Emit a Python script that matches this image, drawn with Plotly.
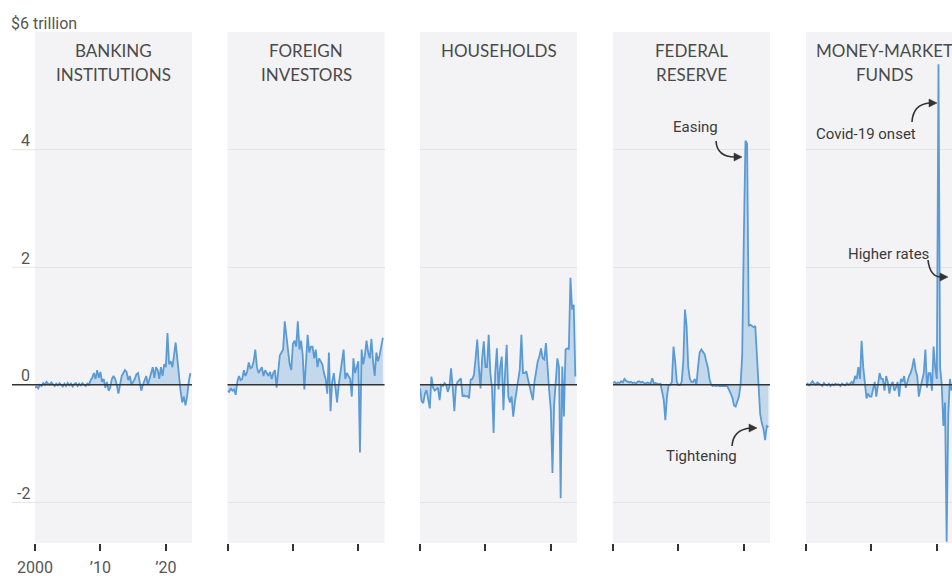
import plotly.graph_objects as go

# Quarterly change in holdings of U.S. Treasurys, by holder (trillions of dollars, annual rate)
quarters = [2000 + q / 4 for q in range(96)]

banking = [
    -0.05, -0.03, -0.06, 0.00,
    -0.02, 0.03, 0.00, 0.05,
    0.02, 0.00, 0.04, 0.01,
    -0.02, 0.02, -0.01, 0.03,
    0.00, -0.03, 0.02, -0.02,
    0.03, -0.01, 0.02, -0.03,
    0.01, 0.03, -0.02, 0.02,
    -0.01, 0.03, 0.00, -0.02,
    0.02, 0.00, 0.08, 0.12,
    0.20, 0.10, 0.25, 0.12,
    0.22, 0.05, 0.10, -0.05,
    0.05, -0.10, -0.05, 0.10,
    0.15, 0.10, 0.00, -0.15,
    0.00, 0.15, 0.20, 0.25,
    0.22, 0.08, 0.15, 0.00,
    0.05, 0.10, 0.18, 0.20,
    0.05, -0.10, 0.00, 0.08,
    0.15, 0.00, 0.10, 0.20,
    0.30, 0.12, 0.30, 0.25,
    0.10, 0.30, 0.15, 0.35,
    0.30, 0.88, 0.35, 0.40,
    0.30, 0.50, 0.72, 0.45,
    0.15, -0.10, -0.30, -0.20,
    -0.35, -0.20, 0.05, 0.20,
]

foreign = [
    -0.10, -0.12, -0.06, -0.10,
    -0.08, -0.17, 0.05, 0.15,
    0.08, 0.10, 0.25, 0.15,
    0.22, 0.38, 0.28, 0.30,
    0.40, 0.60, 0.30, 0.20,
    0.25, 0.30, 0.15, 0.25,
    0.20, 0.15, 0.22, 0.10,
    0.20, 0.25, -0.05, 0.30,
    0.50, 0.55, 0.60, 1.08,
    0.85, 0.60, 0.35, 0.25,
    0.70, 0.75, 0.65, 1.08,
    0.60, 0.75, 0.50, -0.08,
    0.50, 0.85, 0.55, 0.65,
    0.65, 0.45, 0.60, 0.30,
    0.45, 0.40, 0.35, 0.20,
    0.10, -0.15, 0.55, -0.45,
    0.05, 0.20, -0.10, -0.30,
    0.00, 0.20, 0.35, 0.60,
    0.10, 0.20, 0.15, 0.10,
    -0.20, 0.45, 0.20, 0.30,
    0.40, -1.15, 0.60, 0.35,
    0.50, 0.75, 0.55, 0.45,
    0.78, 0.40, 0.15, 0.55,
    0.40, 0.50, 0.65, 0.80,
]

households = [
    -0.06, -0.28, -0.31, -0.15,
    -0.09, -0.26, -0.40, 0.14,
    -0.05, -0.10, -0.08, -0.05,
    -0.26, 0.00, -0.02, 0.03,
    0.00, -0.12, -0.03, 0.28,
    -0.05, -0.45, -0.02, 0.05,
    0.08, 0.11, -0.20, -0.18,
    -0.20, -0.19, -0.23, 0.09,
    0.10, 0.17, 0.45, 0.77,
    0.30, -0.06, 0.45, 0.74,
    0.30, 0.30, 0.85, 0.20,
    -0.05, -0.82, 0.20, 0.62,
    -0.08, 0.30, 0.48, -0.43,
    0.20, 0.68, -0.20, -0.30,
    -0.20, -0.54, -0.30, -0.08,
    0.10, 0.26, 0.85, 0.20,
    0.20, 0.23, 0.10, -0.03,
    -0.10, -0.26, 0.05, 0.20,
    0.40, 0.48, 0.62, 0.45,
    0.43, 0.71, 0.20, -0.10,
    -0.43, -1.50, -0.35, 0.10,
    0.45, 0.30, -1.93, 0.31,
    -0.54, 0.60, 0.62, 0.60,
    1.82, 1.28, 1.36, 0.14,
]

federal_reserve = [
    0.03, 0.05, 0.02, 0.04,
    0.03, 0.06, 0.04, 0.10,
    0.07, 0.06, 0.04, 0.05,
    0.03, 0.04, 0.02, 0.05,
    0.06, 0.04, 0.05, 0.03,
    0.02, 0.04, 0.03, 0.02,
    0.11, 0.02, 0.03, 0.02,
    0.01, 0.02, -0.10, -0.25,
    -0.60, -0.20, 0.00, 0.00,
    0.05, 0.65, 0.40, 0.05,
    0.00, 0.00, 0.05, 0.40,
    1.28, 1.00, 0.30, 0.10,
    0.05, 0.05, 0.10, 0.00,
    0.30, 0.55, 0.60, 0.55,
    0.52, 0.40, 0.30, 0.10,
    0.00, -0.02, -0.01, -0.02,
    -0.01, -0.02, -0.02, -0.01,
    -0.02, -0.02, -0.03, -0.08,
    -0.15, -0.22, -0.35, -0.37,
    -0.28, -0.20, 0.00, 0.50,
    2.50, 4.15, 4.10, 1.00,
    1.02, 1.00, 0.98, 1.00,
    0.50, -0.05, -0.50, -0.65,
    -0.75, -0.94, -0.70, -0.72,
]

money_market_funds = [
    0.00, 0.02, -0.01, 0.03,
    0.06, 0.02, 0.00, 0.04,
    0.02, 0.01, -0.02, 0.03,
    0.00, -0.01, 0.02, -0.02,
    0.01, -0.01, 0.02, 0.00,
    0.01, -0.02, 0.02, 0.00,
    -0.01, 0.03, 0.00, 0.02,
    0.05, 0.02, 0.15, 0.10,
    0.30, 0.10, 0.75, 0.30,
    0.00, -0.23, -0.15, -0.20,
    -0.20, -0.05, 0.05, -0.20,
    0.05, 0.20, 0.10, 0.10,
    -0.10, 0.15, 0.05, -0.15,
    0.00, 0.05, -0.10, -0.05,
    0.05, -0.20, 0.10, 0.05,
    0.15, -0.05, 0.05, 0.15,
    0.20, 0.30, 0.45, 0.25,
    0.15, -0.20, -0.05, 0.10,
    0.20, 0.60, -0.05, 0.20,
    0.20, -0.10, 0.65, 0.30,
    0.10, 5.45, 0.30, 0.00,
    -0.70, -0.30, -2.67, -0.50,
    0.10, -0.10,
]

panel_titles = [
    ["BANKING", "INSTITUTIONS"],
    ["FOREIGN", "INVESTORS"],
    ["HOUSEHOLDS"],
    ["FEDERAL", "RESERVE"],
    ["MONEY-MARKET", "FUNDS"],
]
series = [banking, foreign, households, federal_reserve, money_market_funds]

y_tick_values = [-2, 0, 2, 4]
y_tick_labels = ["-2", "0", "2", "4"]
top_label = "$6 trillion"
x_tick_values = [2000, 2010, 2020]
x_tick_labels = ["2000", "\u201910", "\u201920"]

# ---- layout geometry (pixels) ----
W, H = 952, 576
PANEL_LEFT = [35, 227.5, 420, 613, 806]
PANEL_W = 157
PANEL_TOP, PANEL_BOTTOM = 32, 543
Y_RANGE = [-2.69, 6.0]
X_START, YEARS_PER_PANEL = 2000, 24


def fx(px):
    return px / W


def fy(py):
    return 1 - py / H


LINE = "#5b9bd5"
FILL = "rgba(91,155,213,0.30)"
PANEL_BG = "#f3f3f5"
GRID = "#e4e4e6"
INK = "#333333"
LABEL = "#555555"
SANS = "Roboto, Liberation Sans, sans-serif"
TITLE_FONT = "Lato, Open Sans, sans-serif"

fig = go.Figure()
layout = dict(
    template="none",
    width=W, height=H,
    margin=dict(l=0, r=0, t=0, b=0, pad=0, autoexpand=False),
    paper_bgcolor="white",
    plot_bgcolor=PANEL_BG,
    showlegend=False,
    shapes=[], annotations=[],
)

for i, (vals, title) in enumerate(zip(series, panel_titles)):
    n = i + 1
    xa = "xaxis" if n == 1 else f"xaxis{n}"
    ya = "yaxis" if n == 1 else f"yaxis{n}"
    xr = "x" if n == 1 else f"x{n}"
    yr = "y" if n == 1 else f"y{n}"
    left = PANEL_LEFT[i]
    right = min(left + PANEL_W, W)
    x_end = X_START + YEARS_PER_PANEL * (right - left) / PANEL_W

    fig.add_trace(go.Scatter(
        x=quarters[:len(vals)], y=vals, xaxis=xr, yaxis=yr,
        mode="lines", line=dict(color=LINE, width=1.8, shape="linear"),
        fill="tozeroy", fillcolor=FILL, hoverinfo="skip",
    ))

    layout[xa] = dict(
        domain=[fx(left), fx(right)], range=[X_START, x_end], anchor=yr,
        automargin=False,
        showgrid=False, zeroline=False, showline=False,
        ticks="outside", ticklen=7, tickwidth=1.6, tickcolor=INK,
        tickvals=x_tick_values, ticktext=x_tick_labels,
        showticklabels=(n == 1), ticklabelstandoff=3,
        tickfont=dict(family=SANS, size=16, color=LABEL),
    )
    layout[ya] = dict(
        domain=[fy(PANEL_BOTTOM), fy(PANEL_TOP)], range=Y_RANGE, anchor=xr,
        automargin=False,
        showgrid=True, gridcolor=GRID, gridwidth=1,
        tickvals=y_tick_values, showticklabels=False, ticks="",
        zeroline=False, showline=False,
    )

    # baseline at zero, drawn over the area fill
    x0 = fx(12) if n == 1 else fx(left)
    layout["shapes"].append(dict(
        type="line", xref="paper", yref=yr, x0=x0, x1=fx(right), y0=0, y1=0,
        line=dict(color=INK, width=1.5), layer="above",
    ))

    # panel heading
    cx = left + PANEL_W / 2
    for k, line_text in enumerate(title):
        layout["annotations"].append(dict(
            xref="paper", yref="paper", x=fx(cx), y=fy(51 + 23 * k),
            xanchor="center", yanchor="middle", showarrow=False,
            text=line_text, font=dict(family=TITLE_FONT, size=17, color="#4a4a4a"),
        ))

# gridlines of the first panel run out under the value labels
for v in y_tick_values:
    if v == 0:
        continue
    layout["shapes"].append(dict(
        type="line", xref="paper", yref="y", x0=fx(12), x1=fx(PANEL_LEFT[0]),
        y0=v, y1=v, line=dict(color=GRID, width=1), layer="below",
    ))

# value labels sitting on the gridlines
for v, t in zip(y_tick_values, y_tick_labels):
    layout["annotations"].append(dict(
        xref="paper", yref="y", x=fx(32), y=v, xanchor="right", yanchor="middle",
        yshift=9, showarrow=False, text=t,
        font=dict(family=SANS, size=16, color=LABEL),
    ))
layout["annotations"].append(dict(
    xref="paper", yref="paper", x=fx(9), y=fy(23), xanchor="left", yanchor="middle",
    showarrow=False, text=top_label, font=dict(family=SANS, size=16, color=LABEL),
))

# callouts with curved arrows
callouts = [
    ("Easing", (695, 127), [(716, 141), (717, 157), (735, 157)], (742, 157)),
    ("Tightening", (701, 456), [(732, 446), (733, 430), (750, 428)], (757, 428)),
    ("Covid-19 onset", (866, 134), [(912, 122), (913, 104), (930, 103)], (937, 103)),
    ("Higher rates", (888, 254), [(928, 260), (930, 277), (941, 277)], (948, 277)),
]
for text, (tx, ty), (p0, pc, p1), tip in callouts:
    layout["annotations"].append(dict(
        xref="paper", yref="paper", x=fx(tx), y=fy(ty), xanchor="center",
        yanchor="middle", showarrow=False, text=text,
        font=dict(family=SANS, size=15, color="#3a3a3a"),
    ))
    path = (f"M {fx(p0[0])},{fy(p0[1])} Q {fx(pc[0])},{fy(pc[1])} "
            f"{fx(p1[0])},{fy(p1[1])}")
    layout["shapes"].append(dict(
        type="path", xref="paper", yref="paper", path=path,
        line=dict(color=INK, width=1.6), layer="above",
    ))
    hx, hy = tip
    head = (f"M {fx(hx)},{fy(hy)} L {fx(hx - 8)},{fy(hy - 4)} "
            f"L {fx(hx - 8)},{fy(hy + 4)} Z")
    layout["shapes"].append(dict(
        type="path", xref="paper", yref="paper", path=head,
        fillcolor=INK, line=dict(color=INK, width=0.5), layer="above",
    ))

fig.update_layout(**layout)
fig.write_html("out.html", config={"displayModeBar": False})
